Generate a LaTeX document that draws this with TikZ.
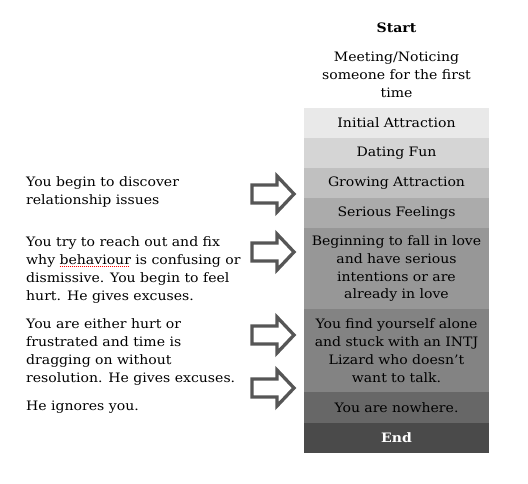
\documentclass[tikz,border=0pt]{standalone}
\usepackage{fontspec}
\setmainfont{DejaVu Serif}[FakeStretch=1.08]
\newlength\sqwidth
\newcommand\spellul[1]{\settowidth\sqwidth{#1}\rlap{\raisebox{-2.8pt}[0pt][0pt]{\textcolor{red}{\leaders\hbox to 2pt{\rule{1pt}{0.9pt}\hss}\hskip\sqwidth}}}#1}
\definecolor{rowA}{HTML}{E9E9E9}
\definecolor{rowB}{HTML}{D5D5D5}
\definecolor{rowC}{HTML}{C0C0C0}
\definecolor{rowD}{HTML}{ABABAB}
\definecolor{rowE}{HTML}{979797}
\definecolor{rowF}{HTML}{838383}
\definecolor{rowG}{HTML}{676767}
\definecolor{rowH}{HTML}{4A4A4A}
\definecolor{arrowgray}{HTML}{565656}
\tikzset{
  txt/.style={font=\fontsize{13}{18}\selectfont, inner sep=0pt},
  boldtxt/.style={font=\fontsize{13}{18}\selectfont\bfseries},
  rowbox/.style={txt, fill=#1, minimum width=185pt, text width=184pt, align=center},
  lefttext/.style={txt, anchor=west, align=left},
  blockarrow/.pic={\draw[draw=arrowgray, fill=white, line width=3.3pt]
    (-21,-9) -- (4,-9) -- (4,-18) -- (21,0) -- (4,18) -- (4,9) -- (-21,9) -- cycle;}
}
\begin{document}
\begin{tikzpicture}[x=1pt,y=-1pt]
\useasboundingbox (0,0) rectangle (528,483);
\node[txt, boldtxt] (start) at (396.5,28) {Start};
\node[txt, align=center] (meet) at (396.5,75) {Meeting/Noticing\\someone for the first\\time};
\node[rowbox=rowA, minimum height=30pt] (r1) at (396.5,123) {Initial Attraction};
\node[rowbox=rowB, minimum height=30pt] (r2) at (396.5,153) {Dating Fun};
\node[rowbox=rowC, minimum height=30pt] (r3) at (396.5,183) {Growing Attraction};
\node[rowbox=rowD, minimum height=30pt] (r4) at (396.5,213) {Serious Feelings};
\node[rowbox=rowE, minimum height=81pt] (r5) at (396.5,268.5) {Beginning to fall in love\\and have serious\\intentions or are\\already in love};
\node[rowbox=rowF, minimum height=83pt] (r6) at (396.5,350.5) {You find yourself alone\\and stuck with an INTJ\\Lizard who doesn’t\\want to talk.};
\node[rowbox=rowG, minimum height=31pt] (r7) at (396.5,407.5) {You are nowhere.};
\node[rowbox=rowH, minimum height=30pt, text=white, boldtxt] (r8) at (396.5,438) {End};
\node[lefttext] (t1) at (26,191.5) {You begin to discover\\relationship issues};
\node[lefttext] (t2) at (26,270) {You try to reach out and fix\\why \spellul{behaviour} is confusing or\\dismissive. You begin to feel\\hurt. He gives excuses.};
\node[lefttext] (t3) at (26,352) {You are either hurt or\\frustrated and time is\\dragging on without\\resolution. He gives excuses.};
\node[lefttext] (t4) at (26,407) {He ignores you.};
\pic at (273,194) {blockarrow};
\pic at (273,252) {blockarrow};
\pic at (273,335) {blockarrow};
\pic at (273,388) {blockarrow};
\end{tikzpicture}
\end{document}
